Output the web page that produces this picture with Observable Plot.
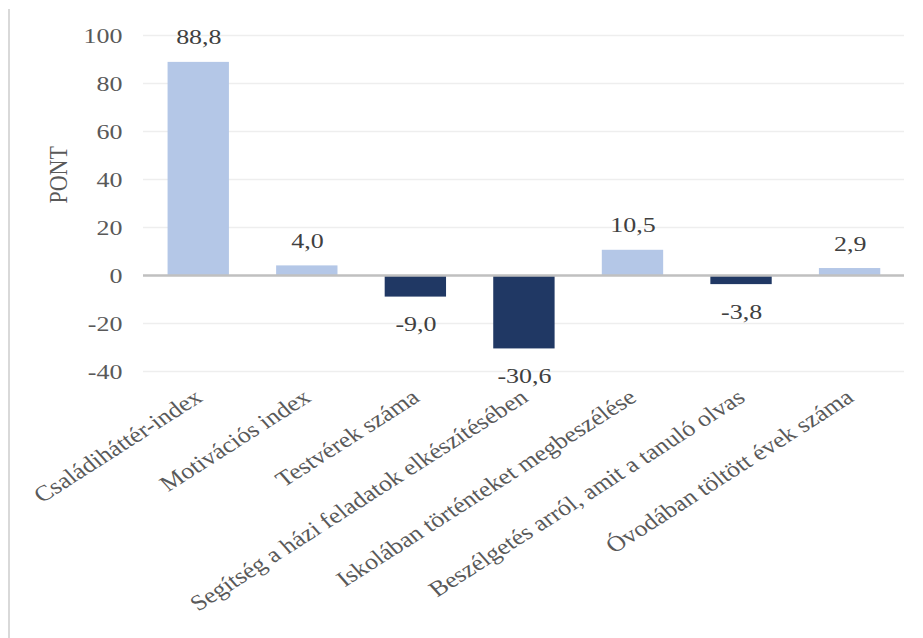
<!DOCTYPE html>
<html><head><meta charset="utf-8">
<script src="https://cdn.jsdelivr.net/npm/d3@7"></script>
<script src="https://cdn.jsdelivr.net/npm/@observablehq/plot@0.6"></script>
<style>
body{margin:0;background:#fff;}
#wrap{position:relative;width:923px;height:638px;overflow:hidden;}
#frame{position:absolute;left:8px;top:9px;bottom:0;border-left:2px solid #d9d9d9;}
</style></head><body><div id="wrap"><div id="frame"></div></div>
<script>
const categories = [
  "Családiháttér-index",
  "Motivációs index",
  "Testvérek száma",
  "Segítség a házi feladatok elkészítésében",
  "Iskolában történteket megbeszélése",
  "Beszélgetés arról, amit a tanuló olvas",
  "Óvodában töltött évek száma"
];
const values = [88.8, 4.0, -9.0, -30.6, 10.5, -3.8, 2.9];
const yTicks = [-40, -20, 0, 20, 40, 60, 80, 100];
const yLabel = "PONT";

const data = categories.map((c, i) => ({cat: c, value: values[i]}));
const fmt = v => v.toFixed(1).replace(".", ",");
const font = "'Liberation Serif', 'Times New Roman', serif";

// the reference chart is horizontally stretched; draw narrower and stretch
const S = 1.18;
const W = 923 / S;

const chart = Plot.plot({
  width: W, height: 638,
  marginLeft: 143 / S, marginRight: 19 / S, marginTop: 35, marginBottom: 267,
  style: {fontFamily: font, fontSize: "22px", color: "#595959", background: "transparent", overflow: "visible"},
  x: {domain: categories, paddingInner: 0.44, paddingOuter: 0.22, label: null},
  y: {domain: [-40, 100], label: null},
  marks: [
    Plot.gridY(yTicks, {stroke: "#eeeeee", strokeOpacity: 1, strokeWidth: 1.5}),
    Plot.barY(data, {x: "cat", y: "value", fill: d => d.value >= 0 ? "#b4c7e7" : "#203864"}),
    Plot.ruleY([0], {stroke: "#c0c0c0", strokeWidth: 2.5}),
    Plot.text(data.filter(d => d.value >= 0), {x: "cat", y: "value", text: d => fmt(d.value), dy: -25, fill: "#404040", fontSize: 22}),
    Plot.text(data.filter(d => d.value < 0), {x: "cat", y: "value", text: d => fmt(d.value), dy: 27, fill: "#404040", fontSize: 22}),
    Plot.axisY(yTicks, {tickSize: 0, tickPadding: 18, tickFormat: d => String(d), label: null, fill: "#595959", fontSize: 22}),
    Plot.axisX({tickSize: 0, tickPadding: 23, tickRotate: -37, label: null, fill: "#595959", fontSize: 22}),
    Plot.text([yLabel], {frameAnchor: "left", text: d => d, rotate: -90, dx: -72, fill: "#595959", fontSize: 22})
  ]
});
document.getElementById("wrap").appendChild(chart);
chart.style.position = "absolute";
chart.style.left = "0px";
chart.style.top = "0px";
chart.style.transformOrigin = "0 0";
chart.style.transform = `scaleX(${S})`;
</script>
</body></html>
